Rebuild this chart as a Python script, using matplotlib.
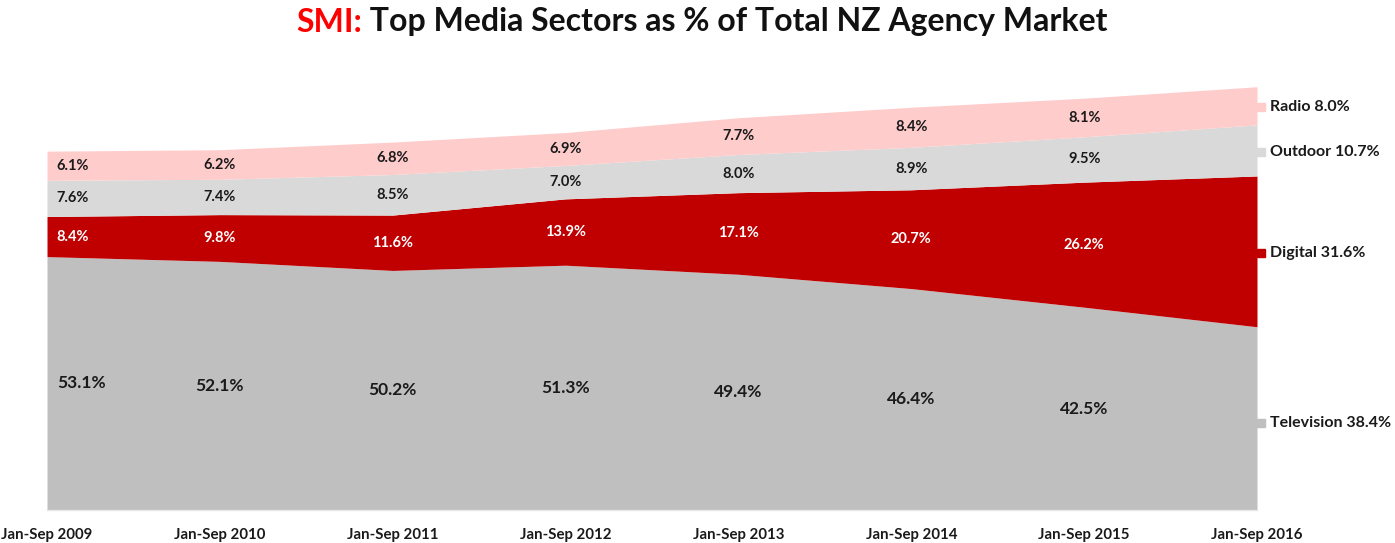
import numpy as np
import matplotlib.pyplot as plt
from matplotlib.transforms import offset_copy

plt.rcParams['font.family'] = ['Lato', 'DejaVu Sans']

periods = ['Jan-Sep 2009', 'Jan-Sep 2010', 'Jan-Sep 2011', 'Jan-Sep 2012',
           'Jan-Sep 2013', 'Jan-Sep 2014', 'Jan-Sep 2015', 'Jan-Sep 2016']
television = [53.1, 52.1, 50.2, 51.3, 49.4, 46.4, 42.5, 38.4]
digital = [8.4, 9.8, 11.6, 13.9, 17.1, 20.7, 26.2, 31.6]
outdoor = [7.6, 7.4, 8.5, 7.0, 8.0, 8.9, 9.5, 10.7]
radio = [6.1, 6.2, 6.8, 6.9, 7.7, 8.4, 8.1, 8.0]

series = [('Television', television, '#bfbfbf', '#1a1a1a'),
          ('Digital', digital, '#c00000', 'white'),
          ('Outdoor', outdoor, '#d9d9d9', '#1a1a1a'),
          ('Radio', radio, '#ffcccc', '#1a1a1a')]

W, H = 1395, 543
fig = plt.figure(figsize=(W / 100, H / 100), dpi=100)
ax = fig.add_axes([47 / W, (H - 510) / H, (1257 - 47) / W, 450 / H])

x = np.arange(len(periods))
bottom = np.zeros(len(x))
for name, vals, color, tcol in series:
    vals = np.array(vals)
    top = bottom + vals
    ax.fill_between(x, bottom, top, color=color, linewidth=0)
    mid = (bottom + top) / 2
    fs = 12.5 if name == 'Television' else 10.5
    # value labels inside the band (last point is labelled on the right)
    for i in range(len(x) - 1):
        if i == 0:
            ax.annotate(f'{vals[i]:.1f}%', (x[i], mid[i]), xytext=(7, 0),
                        textcoords='offset points', ha='left', va='center',
                        fontsize=fs, fontweight='bold', color=tcol)
        else:
            ax.text(x[i], mid[i], f'{vals[i]:.1f}%', ha='center', va='center',
                    fontsize=fs, fontweight='bold', color=tcol)
    # side legend
    dy = -3 if name == 'Television' else -1
    mk = offset_copy(ax.transData, fig=fig, x=3, y=dy, units='points')
    ax.plot([x[-1]], [mid[-1]], marker='s', ms=6, color=color,
            transform=mk, clip_on=False, linestyle='none')
    ax.annotate(f'{name} {vals[-1]:.1f}%', (x[-1], mid[-1]), xytext=(9, dy),
                textcoords='offset points', ha='left', va='center',
                fontsize=11.5, fontweight='bold', color='#1a1a1a',
                annotation_clip=False)
    bottom = top

ax.set_xlim(0, len(x) - 1)
ax.set_ylim(0, 94.3)
ax.set_yticks([])
ax.set_xticks(x)
ax.set_xticklabels(periods, fontsize=10.8, fontweight='bold', color='#1a1a1a')
ax.tick_params(axis='x', length=0, pad=13)
for s in ax.spines.values():
    s.set_visible(False)
ax.axhline(0, color='#e6e6e6', linewidth=1, clip_on=False)

# two-colour title
t1 = fig.text(0, 1 - 22 / H, 'SMI:', fontsize=23, fontweight='bold',
              color='#ff0000', va='center', ha='left')
t2 = fig.text(0, 1 - 22 / H, ' Top Media Sectors as % of Total NZ Agency Market',
              fontsize=23, fontweight='bold', color='#111111', va='center', ha='left')
fig.canvas.draw()
r = fig.canvas.get_renderer()
w1 = t1.get_window_extent(r).width
w2 = t2.get_window_extent(r).width
x0 = (702 - (w1 + w2) / 2) / W
t1.set_x(x0)
t2.set_x(x0 + w1 / W)

fig.savefig('out.png', dpi=100)
